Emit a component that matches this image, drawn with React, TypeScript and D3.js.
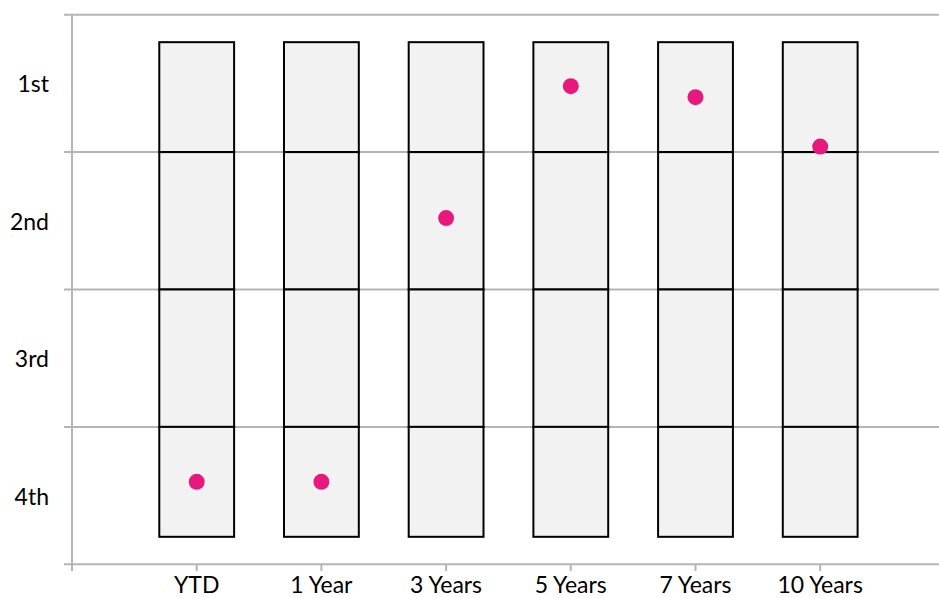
import React from "react";
import * as d3 from "d3";

// Trailing periods shown along the bottom
const periods = ["YTD", "1 Year", "3 Years", "5 Years", "7 Years", "10 Years"];
// Fund percentile rank within its peer group (1 = best, 100 = worst)
const percentileRank = [85, 85, 37, 13, 15, 24];
// Quartile row labels, top to bottom
const quartileLabels = ["1st", "2nd", "3rd", "4th"];
// Peer range drawn per period: 5th to 95th percentile, split at the quartiles
const bandEdges = [5, 25, 50, 75, 95];
const quartileBreaks = [0, 25, 50, 75, 100];

const W = 939;
const H = 598;
const left = 72;
const top = 14.7;
const bottom = 564.3;
const unit = 124.7;

const FONT = "Lato, 'Open Sans', sans-serif";

export default function App() {
  const x = d3.scaleLinear().domain([0, periods.length + 1]).range([left, left + unit * (periods.length + 1)]);
  const y = d3.scaleLinear().domain([0, 100]).range([top, bottom]);
  const boxHalf = 0.3;
  const grid = "#b5b5b5";

  return (
    <svg
      width={W}
      height={H}
      style={{ position: "absolute", left: 0, top: 0, background: "#fff" }}
      fontFamily={FONT}
    >
      {/* horizontal gridlines and left ticks */}
      {quartileBreaks.map((q) => (
        <line key={"g" + q} x1={64} x2={W} y1={y(q)} y2={y(q)} stroke={grid} strokeWidth={2} />
      ))}
      {/* left axis */}
      <line x1={left} x2={left} y1={y(0)} y2={571} stroke={grid} strokeWidth={2} />
      {/* bottom ticks */}
      {[0, ...periods.map((_, i) => i + 1)].map((v) => (
        <line key={"t" + v} x1={x(v)} x2={x(v)} y1={bottom} y2={571} stroke={grid} strokeWidth={2} />
      ))}

      {/* peer range boxes */}
      {periods.map((p, i) => {
        const cx = x(i + 1);
        const x0 = x(i + 1 - boxHalf);
        const x1 = x(i + 1 + boxHalf);
        return (
          <g key={"b" + p}>
            {bandEdges.slice(0, -1).map((e, j) => (
              <rect
                key={j}
                x={x0}
                y={y(e)}
                width={x1 - x0}
                height={y(bandEdges[j + 1]) - y(e)}
                fill="#f2f2f2"
                stroke="#000"
                strokeWidth={2}
              />
            ))}
            <circle cx={cx} cy={y(percentileRank[i])} r={8} fill="#e8197d" />
          </g>
        );
      })}

      {/* quartile labels */}
      {quartileLabels.map((l, i) => (
        <text
          key={l}
          x={49}
          y={(y(quartileBreaks[i]) + y(quartileBreaks[i + 1])) / 2 + 9}
          textAnchor="end"
          fontSize={23}
          fill="#000"
        >
          {l}
        </text>
      ))}

      {/* period labels */}
      {periods.map((p, i) => (
        <text key={"l" + p} x={x(i + 1)} y={593} textAnchor="middle" fontSize={23} fill="#000">
          {p}
        </text>
      ))}
    </svg>
  );
}
